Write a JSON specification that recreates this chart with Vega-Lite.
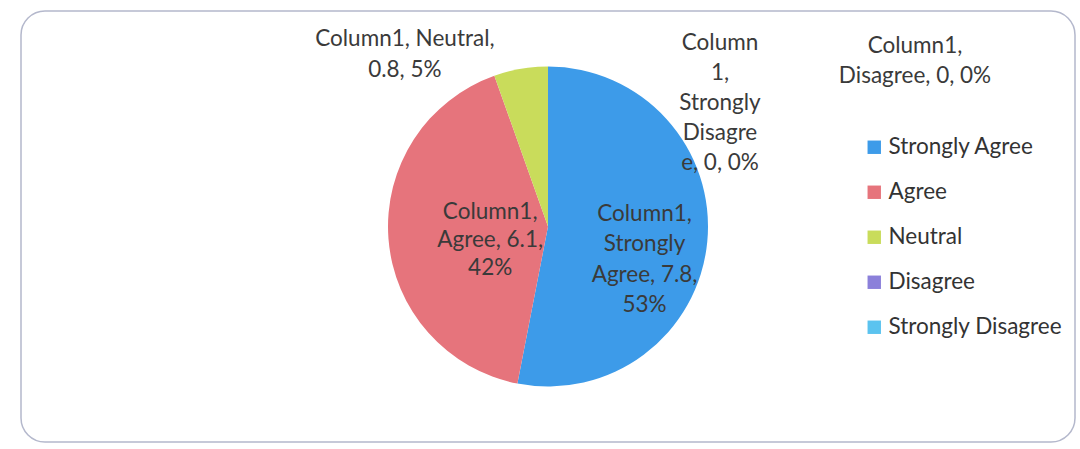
{
  "$schema": "https://vega.github.io/schema/vega-lite/v6.json",
  "width": 1080,
  "height": 449,
  "autosize": {"type": "fit", "contains": "padding"},
  "padding": {"left": 21, "top": 11, "right": 5, "bottom": 7},
  "background": "#ffffff",
  "view": {"stroke": "#b4b8cc", "strokeWidth": 1.5, "cornerRadius": 24},
  "config": {"font": "Lato", "text": {"lineBreak": "\n"}},
  "data": {
    "values": [
      {"category": "Strongly Agree", "value": 7.8, "order": 1, "label": "Column1,\nStrongly\nAgree, 7.8,\n53%"},
      {"category": "Agree", "value": 6.1, "order": 2, "label": "Column1,\nAgree, 6.1,\n42%"},
      {"category": "Neutral", "value": 0.8, "order": 3, "label": "Column1, Neutral,\n0.8, 5%"},
      {"category": "Disagree", "value": 0, "order": 4, "label": "Column1,\nDisagree, 0, 0%"},
      {"category": "Strongly Disagree", "value": 0, "order": 5, "label": "Column\n1,\nStrongly\nDisagre\ne, 0, 0%"}
    ]
  },
  "encoding": {
    "theta": {"field": "value", "type": "quantitative", "stack": true},
    "order": {"field": "order", "type": "quantitative"}
  },
  "layer": [
    {
      "mark": {"type": "arc", "outerRadius": 160},
      "encoding": {
        "color": {
          "field": "category",
          "type": "nominal",
          "sort": ["Strongly Agree", "Agree", "Neutral", "Disagree", "Strongly Disagree"],
          "scale": {
            "domain": ["Strongly Agree", "Agree", "Neutral", "Disagree", "Strongly Disagree"],
            "range": ["#3d9be9", "#e6747c", "#c9dc5b", "#8b80da", "#5bc3ef"]
          },
          "legend": {
            "title": null,
            "orient": "none",
            "legendX": 842,
            "legendY": 125,
            "symbolType": "square",
            "symbolSize": 180,
            "symbolStrokeWidth": 0,
            "labelFontSize": 22.5,
            "labelColor": "#333333",
            "labelFont": "Lato",
            "labelOffset": 3,
            "rowPadding": 22,
            "labelLimit": 300
          }
        }
      }
    },
    {
      "mark": {"type": "text", "radius": 97, "dy": -22, "fontSize": 22.5, "lineHeight": 30.5, "color": "#3a3a3a", "align": "center", "baseline": "middle"},
      "encoding": {"text": {"condition": {"test": "datum.category === 'Strongly Agree'", "field": "label"}, "value": ""}}
    },
    {
      "mark": {"type": "text", "radius": 58, "dy": -19, "fontSize": 22.5, "lineHeight": 28, "color": "#3a3a3a", "align": "center", "baseline": "middle"},
      "encoding": {"text": {"condition": {"test": "datum.category === 'Agree'", "field": "label"}, "value": ""}}
    },
    {
      "mark": {"type": "text", "radius": 177, "dx": -113, "dy": -13, "fontSize": 22.5, "lineHeight": 31, "color": "#3a3a3a", "align": "center", "baseline": "middle"},
      "encoding": {"text": {"condition": {"test": "datum.category === 'Neutral'", "field": "label"}, "value": ""}}
    },
    {
      "mark": {"type": "text", "radius": 166, "dx": 367, "dy": -15, "fontSize": 22.5, "lineHeight": 30, "color": "#3a3a3a", "align": "center", "baseline": "middle"},
      "encoding": {"text": {"condition": {"test": "datum.category === 'Disagree'", "field": "label"}, "value": ""}}
    },
    {
      "mark": {"type": "text", "radius": 124, "dx": 172, "dy": -60, "fontSize": 22.5, "lineHeight": 30, "color": "#3a3a3a", "align": "center", "baseline": "middle"},
      "encoding": {"text": {"condition": {"test": "datum.category === 'Strongly Disagree'", "field": "label"}, "value": ""}}
    }
  ]
}
